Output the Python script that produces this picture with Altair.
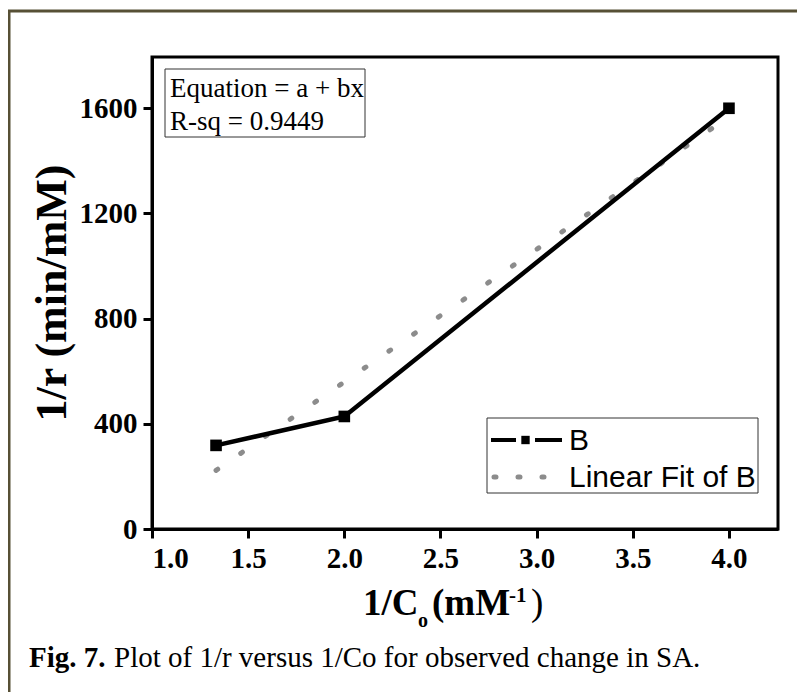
import altair as alt
import pandas as pd

# ---- data ----
inv_c = [1.333, 2.0, 4.0]          # 1/Co (mM^-1)
inv_r = [318, 428, 1600]           # 1/r (min/mM)
fit_x = [1.333, 4.0]               # linear fit of B, endpoints
fit_y = [223, 1568]
x_ticks = [1.0, 1.5, 2.0, 2.5, 3.0, 3.5, 4.0]
y_ticks = [0, 400, 800, 1200, 1600]

df = pd.DataFrame({"x": inv_c, "y": inv_r})
df_fit = pd.DataFrame({"x": fit_x, "y": fit_y})
one = pd.DataFrame({"a": [0]})

SERIF = "Liberation Serif"
SANS = "Liberation Sans"

xscale = alt.Scale(domain=[1.0, 4.255], nice=False, zero=False)
yscale = alt.Scale(domain=[0, 1795], nice=False)

xaxis = alt.Axis(values=x_ticks, format=".1f", title=None, grid=False,
                 domainColor="black", domainWidth=3, tickColor="black", tickWidth=3,
                 tickSize=9, labelFont=SERIF, labelFontWeight="bold", labelFontSize=29,
                 labelColor="black", labelPadding=6)
yaxis = alt.Axis(values=y_ticks, format="d", title=None, grid=False,
                 domainColor="black", domainWidth=3, tickColor="black", tickWidth=3,
                 tickSize=9, labelFont=SERIF, labelFontWeight="bold", labelFontSize=29,
                 labelColor="black", labelPadding=6)

# decorations (frame, boxes, texts)
frame = alt.Chart(one).mark_rect(fillOpacity=0, stroke="#575035", strokeWidth=3).encode(
    x=alt.value(-143), x2=alt.value(700), y=alt.value(-46), y2=alt.value(700))

eq_box = alt.Chart(one).mark_rect(fill="white", stroke="#333333", strokeWidth=1).encode(
    x=alt.value(13), x2=alt.value(213), y=alt.value(12), y2=alt.value(80))
eq1 = alt.Chart(one).mark_text(text="Equation = a + bx", font=SERIF, fontSize=27,
                                align="left", baseline="alphabetic", color="black").encode(
    x=alt.value(18), y=alt.value(40))
eq2 = alt.Chart(one).mark_text(text="R-sq = 0.9449", font=SERIF, fontSize=27,
                                align="left", baseline="alphabetic", color="black").encode(
    x=alt.value(18), y=alt.value(73))

leg_box = alt.Chart(one).mark_rect(fill="white", stroke="#333333", strokeWidth=1).encode(
    x=alt.value(335), x2=alt.value(606), y=alt.value(361), y2=alt.value(436))
leg_l1 = alt.Chart(one).mark_rule(color="black", strokeWidth=4).encode(
    x=alt.value(339), x2=alt.value(364), y=alt.value(383))
leg_l2 = alt.Chart(one).mark_rule(color="black", strokeWidth=4).encode(
    x=alt.value(383), x2=alt.value(410), y=alt.value(383))
leg_sq = alt.Chart(one).mark_point(shape="square", filled=True, color="black", size=70,
                                   opacity=1).encode(x=alt.value(373.5), y=alt.value(383))
leg_t1 = alt.Chart(one).mark_text(text="B", font=SANS, fontSize=30, align="left",
                                  baseline="middle", color="black").encode(
    x=alt.value(417), y=alt.value(384))
leg_fit = alt.Chart(one).mark_rule(color="#8c8c8c", strokeWidth=5, strokeDash=[2, 22],
                                   strokeCap="round").encode(
    x=alt.value(342), x2=alt.value(395), y=alt.value(420))
leg_t2 = alt.Chart(one).mark_text(text="Linear Fit of B", font=SANS, fontSize=30,
                                  align="left", baseline="middle", color="black").encode(
    x=alt.value(417), y=alt.value(421))

# data layers
fit = alt.Chart(df_fit).mark_line(color="#8c8c8c", strokeWidth=5, strokeDash=[2, 28],
                                  strokeCap="round").encode(
    x=alt.X("x:Q", scale=xscale, axis=xaxis), y=alt.Y("y:Q", scale=yscale, axis=yaxis))
line = alt.Chart(df).mark_line(color="black", strokeWidth=4.5).encode(
    x=alt.X("x:Q", scale=xscale, axis=xaxis), y=alt.Y("y:Q", scale=yscale, axis=yaxis))
pts = alt.Chart(df).mark_point(shape="square", filled=True, color="black", size=135,
                               opacity=1).encode(
    x=alt.X("x:Q", scale=xscale, axis=xaxis), y=alt.Y("y:Q", scale=yscale, axis=yaxis))

# axis titles
def txt(s, x, y, size, weight="bold", font=SERIF, angle=0, align="left"):
    kw = dict(text=s, font=font, fontSize=size, fontWeight=weight, align=align,
              baseline="alphabetic", color="black")
    if angle:
        kw["angle"] = angle
    return alt.Chart(one).mark_text(**kw).encode(x=alt.value(x), y=alt.value(y))

ytitle = txt("1/r (min/mM)", -86, 236, 44, angle=270, align="center")
xt = [
    txt("1/C", 211, 558, 37),
    txt("o", 266, 570, 20),
    txt("(mM", 280, 558, 37),
    txt("-1", 357, 545, 21),
    txt(")", 379, 558, 37, weight="normal"),
]
cap1 = txt("Fig. 7.", -123, 610, 29)
cap2 = txt("Plot of 1/r versus 1/Co for observed change in SA.", -38, 610, 29,
           weight="normal")

chart = alt.layer(
    frame, eq_box, eq1, eq2, leg_box, leg_l1, leg_l2, leg_sq, leg_t1, leg_fit, leg_t2,
    fit, line, pts, ytitle, *xt, cap1, cap2
).properties(
    width=626, height=472,
    autosize=alt.AutoSizeParams(type="none"),
    padding={"left": 144, "top": 49, "right": 19, "bottom": 163},
    background="white",
).configure_view(stroke="black", strokeWidth=3)

chart.save("out.html", embed_options={"renderer": "svg", "actions": False})
